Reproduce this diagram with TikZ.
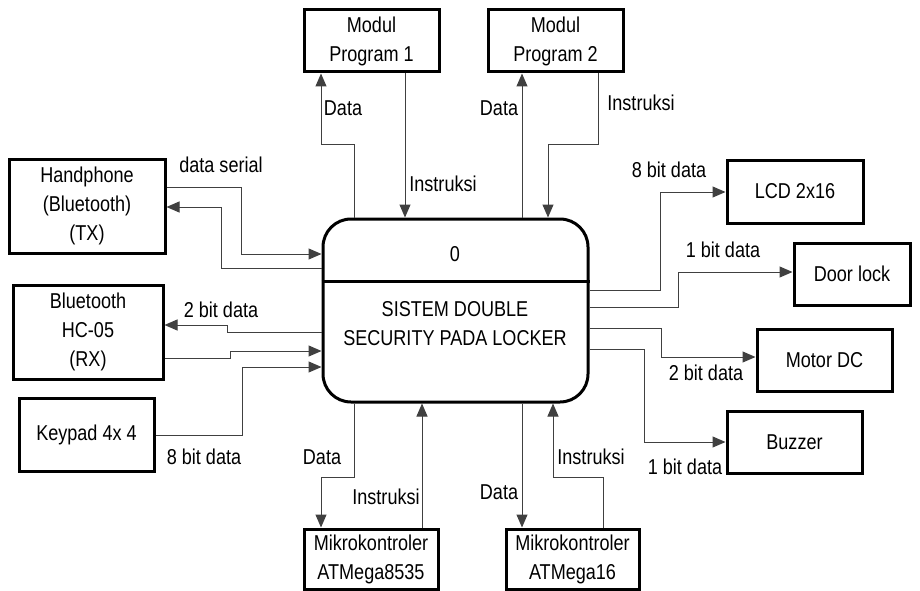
\documentclass[tikz,border=0pt]{standalone}
\usepackage{fontspec}
\setmainfont{Liberation Sans}[FakeStretch=0.84]
\usetikzlibrary{arrows.meta}
\begin{document}
\begin{tikzpicture}[x=1pt,y=-1pt,
  every node/.style={font=\fontsize{21.5}{29}\selectfont},
  blok/.style={draw, line width=3pt, inner sep=0pt, align=center},
  lbl/.style={inner sep=0pt},
  conn/.style={draw=black!75, line width=1pt},
  arr/.style={conn, -{Triangle[length=13pt,width=11pt]}}]
\useasboundingbox (0,0) rectangle (920,591);

% central process
\node[draw, line width=3pt, rounded corners=28pt, minimum width=265pt, minimum height=183pt, inner sep=0pt] (proc) at (455.5,310.5) {};
\draw[line width=3pt] (proc.west |- 0,281) -- (proc.east |- 0,281);
\node[lbl] (pnum) at (455,254) {0};
\node[lbl, align=center] (pname) at (455,324) {SISTEM DOUBLE\\SECURITY PADA LOCKER};

% external entities
\node[blok, minimum width=135pt, minimum height=62pt] (mp1) at (371.5,41) {Modul\\Program 1};
\node[blok, minimum width=135pt, minimum height=62pt] (mp2) at (555.5,41) {Modul\\Program 2};
\node[blok, minimum width=156pt, minimum height=94pt] (hp) at (87,206) {Handphone\\(Bluetooth)\\(TX)};
\node[blok, minimum width=150pt, minimum height=94pt] (bt) at (88,332) {Bluetooth\\HC-05\\(RX)};
\node[blok, minimum width=135pt, minimum height=73pt] (kp) at (86.5,434.5) {Keypad 4x 4};
\node[blok, minimum width=136pt, minimum height=63pt] (lcd) at (795,191.5) {LCD 2x16};
\node[blok, minimum width=116pt, minimum height=62pt] (dl) at (852,274) {Door lock};
\node[blok, minimum width=135pt, minimum height=62pt] (mdc) at (824.5,360) {Motor DC};
\node[blok, minimum width=135pt, minimum height=62pt] (bz) at (794.5,442) {Buzzer};
\node[blok, minimum width=134pt, minimum height=60pt] (m1) at (371,559) {Mikrokontroler\\ATMega8535};
\node[blok, minimum width=133pt, minimum height=60pt] (m2) at (572.5,559) {Mikrokontroler\\ATMega16};

% Modul Program 1
\draw[arr] (proc.north -| 354,0) -- (354,144) -- (321,144) -- (mp1.south -| 321,0);
\node[lbl] (l1) at (343,108) {Data};
\draw[arr] (mp1.south -| 405,0) -- (proc.north -| 405,0);
\node[lbl] (l2) at (443,184) {Instruksi};

% Modul Program 2
\draw[arr] (proc.north -| 522,0) -- (mp2.south -| 522,0);
\node[lbl] (l3) at (499,108) {Data};
\draw[arr] (mp2.south -| 598,0) -- (598,144) -- (548,144) -- (proc.north -| 548,0);
\node[lbl] (l4) at (641,103) {Instruksi};

% Handphone
\draw[arr] (hp.east |- 0,187) -- (241,187) -- (241,254) -- (proc.west |- 0,254);
\draw[arr] (proc.west |- 0,268) -- (221,268) -- (221,207) -- (hp.east |- 0,207);
\node[lbl] (l5) at (221,165) {data serial};

% Bluetooth HC-05
\draw[arr] (proc.west |- 0,332) -- (227,332) -- (227,325) -- (bt.east |- 0,325);
\node[lbl] (l6) at (221,310) {2 bit data};
\draw[arr] (bt.east |- 0,358) -- (230,358) -- (230,351) -- (proc.west |- 0,351);

% Keypad
\draw[arr] (kp.east |- 0,435) -- (242,435) -- (242,367) -- (proc.west |- 0,367);
\node[lbl] (l7) at (204,457) {8 bit data};

% outputs
\draw[arr] (proc.east |- 0,290) -- (660,290) -- (660,192) -- (lcd.west |- 0,192);
\node[lbl] (l8) at (669,170) {8 bit data};
\draw[arr] (proc.east |- 0,307) -- (678,307) -- (678,272) -- (dl.west |- 0,272);
\node[lbl] (l9) at (723,250) {1 bit data};
\draw[arr] (proc.east |- 0,328) -- (661,328) -- (661,357) -- (mdc.west |- 0,357);
\node[lbl] (l10) at (706,373) {2 bit data};
\draw[arr] (proc.east |- 0,349) -- (644,349) -- (644,442) -- (bz.west |- 0,442);
\node[lbl] (l11) at (685,467) {1 bit data};

% Mikrokontroler ATMega8535
\draw[arr] (proc.south -| 354,0) -- (354,477) -- (321,477) -- (m1.north -| 321,0);
\node[lbl] (l12) at (322,457) {Data};
\draw[arr] (m1.north -| 422,0) -- (proc.south -| 422,0);
\node[lbl] (l13) at (386,497) {Instruksi};

% Mikrokontroler ATMega16
\draw[arr] (proc.south -| 522,0) -- (m2.north -| 522,0);
\node[lbl] (l14) at (499,492) {Data};
\draw[arr] (m2.north -| 603,0) -- (603,477) -- (553,477) -- (proc.south -| 553,0);
\node[lbl] (l15) at (591,457) {Instruksi};
\end{tikzpicture}
\end{document}
